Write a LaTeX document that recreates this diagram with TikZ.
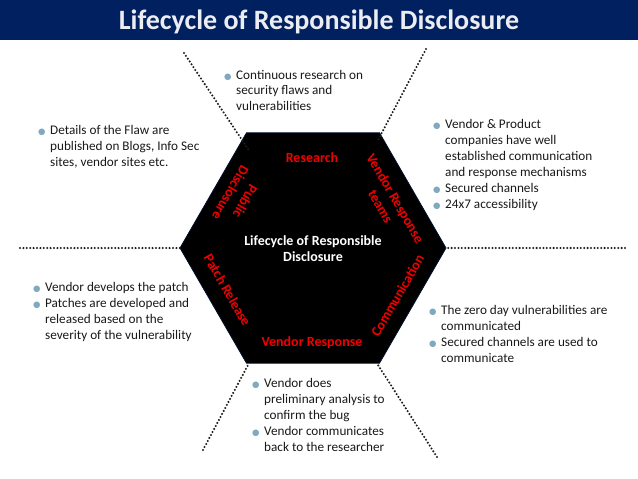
\documentclass[tikz,border=0pt]{standalone}
\usepackage{fontspec}
\setmainfont{Carlito}
\newfontfamily\symfont{DejaVu Sans}
\usetikzlibrary{calc}
\definecolor{navy}{HTML}{002060}
\definecolor{bulc}{HTML}{7FA9BF}
\definecolor{dotc}{HTML}{1E1E1E}
\definecolor{phasered}{HTML}{F00000}
\tikzset{
  notes/.style = {anchor=base west, inner sep=0pt, text=black!90,
                  font=\fontsize{13.2}{15.9}\selectfont},
  phase/.style = {inner sep=0pt, align=center, text=phasered,
                  font=\bfseries\fontsize{14}{17}\selectfont},
  divider/.style = {dotc, line width=2.3pt, line cap=round, dash pattern=on 0pt off 3.4pt}
}
\newcommand{\bul}{\makebox[12pt][l]{\color{bulc}\symfont\fontsize{8.5}{10}\selectfont ●}}
\newcommand{\notelist}[1]{\begin{tabular}[t]{@{}l@{}l@{}}#1\end{tabular}}

\begin{document}
\begin{tikzpicture}[x=1pt,y=1pt]
  \useasboundingbox (0,0) rectangle (638,-479);
  % title bar
  \fill[navy] (0,0) rectangle (638,-40);
  \node[anchor=base, inner sep=0pt, text=white!92!navy, font=\bfseries\fontsize{28}{30}\selectfont]
    (title) at (319,-29) {Lifecycle of Responsible Disclosure};
  % hexagon
  \pgfmathsetmacro{\rad}{133} % radius
  \coordinate (c) at (313,-248);
  \foreach \i in {0,...,5}
    \coordinate (v\i) at ($(c)+(\i*60:\rad)$);
  \draw[fill=black, draw=navy!50!black, line width=0.8pt]
    (v0) -- (v1) -- (v2) -- (v3) -- (v4) -- (v5) -- cycle;
  % dotted dividers
  \coordinate (dl) at (20,-248);
  \coordinate (dr) at (625,-248);
  \coordinate (tla) at (184,-53);   \coordinate (tlb) at (250,-152);
  \coordinate (tra) at (426,-49);   \coordinate (trb) at (378,-140);
  \coordinate (bla) at (203,-450);  \coordinate (blb) at (248,-365);
  \coordinate (bra) at (437,-457);  \coordinate (brb) at (378,-365);
  \draw[divider] (dl) -- (v3);
  \draw[divider] (dr) -- (v0);
  \draw[divider] (tla) -- (tlb);
  \draw[divider] (tra) -- (trb);
  \draw[divider] (bla) -- (blb);
  \draw[divider] (bra) -- (brb);
  % phases
  \node[text=white, font=\bfseries\fontsize{14}{16}\selectfont, align=center, inner sep=0pt]
    (cycle) at (313,-249) {Lifecycle of Responsible\\Disclosure};
  \node[phase] (research) at (312,-157.5) {Research};
  \node[phase, rotate=-60] (teams) at (388,-202.5) {Vendor Response\\teams};
  \node[phase, rotate=60] (comm) at (397.5,-295.5) {Communication};
  \node[phase] (response) at (312,-342.5) {Vendor Response};
  \node[phase, rotate=-60] (patch) at (227.5,-290) {Patch Release};
  \node[phase, rotate=-120] (public) at (238,-197) {Public\\Disclosure};
  % notes
  \node[notes] (researchnotes) at (224,-79) {\notelist{%
    \bul & Continuous research on\\ & security flaws and\\ & vulnerabilities}};
  \node[notes] (publicnotes) at (38,-134.5) {\notelist{%
    \bul & Details of the Flaw are\\ & published on Blogs, Info Sec\\ & sites, vendor sites etc.}};
  \node[notes] (teamsnotes) at (433,-128.5) {\notelist{%
    \bul & Vendor \& Product\\ & companies have well\\ & established communication\\
    & and response mechanisms\\ \bul & Secured channels\\ \bul & 24x7 accessibility}};
  \node[notes] (patchnotes) at (33,-291.5) {\notelist{%
    \bul & Vendor develops the patch\\ \bul & Patches are developed and\\
    & released based on the\\ & severity of the vulnerability}};
  \node[notes] (commnotes) at (429,-314.5) {\notelist{%
    \bul & The zero day vulnerabilities are\\ & communicated\\
    \bul & Secured channels are used to\\ & communicate}};
  \node[notes] (responsenotes) at (252,-387.5) {\notelist{%
    \bul & Vendor does\\ & preliminary analysis to\\ & confirm the bug\\
    \bul & Vendor communicates\\ & back to the researcher}};
\end{tikzpicture}
\end{document}
